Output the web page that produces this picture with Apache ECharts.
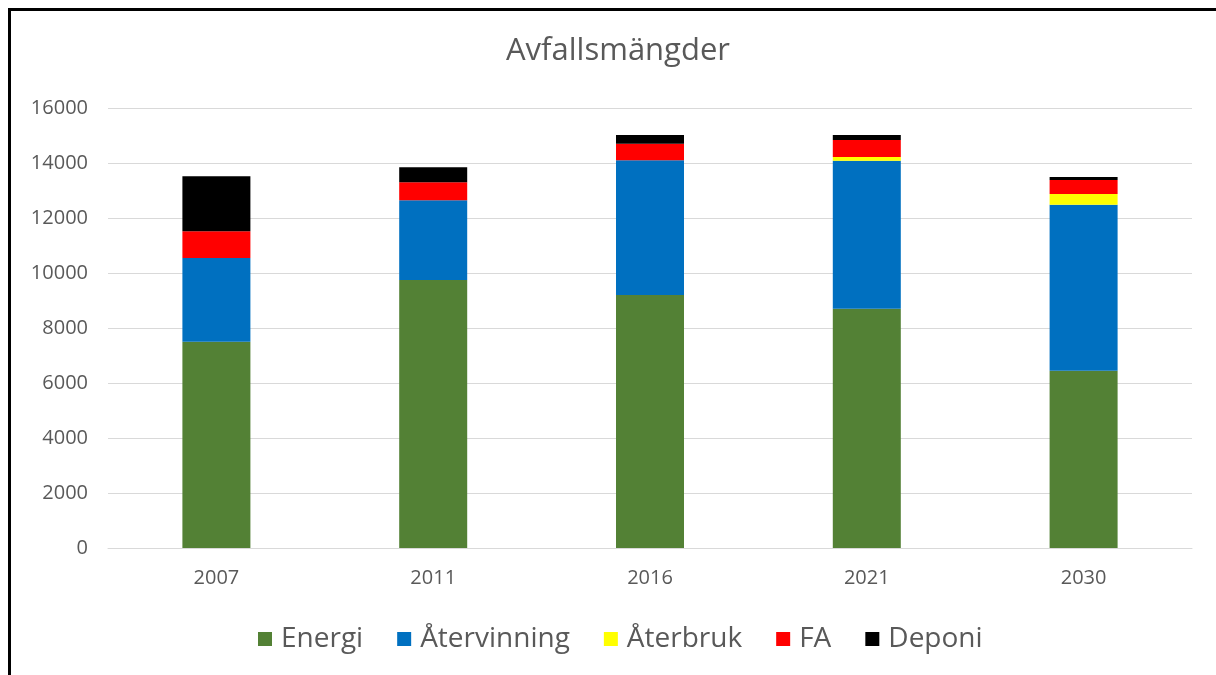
<!DOCTYPE html>
<html>
<head>
<meta charset="utf-8">
<script src="https://cdn.jsdelivr.net/npm/echarts@6/dist/echarts.min.js"></script>
<style>
html,body{margin:0;padding:0;background:#fff;}
#main{width:1216px;height:675px;}
</style>
</head>
<body>
<div id="main"></div>
<script>
const categories = ['2007', '2011', '2016', '2021', '2030'];
const energi = [7500, 9750, 9200, 8700, 6450];
const atervinning = [3050, 2900, 4900, 5380, 6030];
const aterbruk = [0, 0, 0, 135, 390];
const fa = [970, 650, 600, 620, 510];
const deponi = [2000, 550, 320, 180, 110];
const yTicks = [0, 2000, 4000, 6000, 8000, 10000, 12000, 14000, 16000];

const seriesDefs = [
  { name: 'Energi', data: energi, color: '#538135' },
  { name: 'Återvinning', data: atervinning, color: '#0070C0' },
  { name: 'Återbruk', data: aterbruk, color: '#FFFF00' },
  { name: 'FA', data: fa, color: '#FF0000' },
  { name: 'Deponi', data: deponi, color: '#000000' }
];

const font = '"Open Sans", "Liberation Sans", sans-serif';
const chart = echarts.init(document.getElementById('main'), null, { renderer: 'canvas' });
chart.setOption({
  backgroundColor: '#ffffff',
  animation: false,
  title: {
    text: 'Avfallsmängder',
    left: 613, textAlign: 'center', top: 31,
    textStyle: { fontFamily: font, fontSize: 31, fontWeight: 'normal', color: '#595959' }
  },
  legend: {
    left: 253, top: 620,
    itemWidth: 14, itemHeight: 14, itemGap: 34,
    icon: 'rect',
    textStyle: { fontFamily: font, fontSize: 28, color: '#595959', padding: [0, 0, 0, 4] },
    data: seriesDefs.map(s => s.name)
  },
  grid: { left: 108, right: 24, top: 108, bottom: 127, containLabel: false },
  xAxis: {
    type: 'category', data: categories,
    axisLine: { lineStyle: { color: '#d9d9d9', width: 1 } },
    axisTick: { show: false },
    axisLabel: { fontFamily: font, fontSize: 20, color: '#595959', margin: 20 }
  },
  yAxis: {
    type: 'value', min: yTicks[0], max: yTicks[yTicks.length - 1], interval: 2000,
    axisLine: { show: false }, axisTick: { show: false },
    splitLine: { lineStyle: { color: '#d9d9d9', width: 1 } },
    axisLabel: { fontFamily: font, fontSize: 20, color: '#595959', margin: 20,
      formatter: v => String(v) }
  },
  series: seriesDefs.map(s => ({
    name: s.name, type: 'bar', stack: 'total', data: s.data,
    barWidth: 68, itemStyle: { color: s.color }
  })),
  graphic: [{
    type: 'rect', silent: true, z: 100,
    shape: { x: 9.5, y: 9.5, width: 1400, height: 900 },
    style: { fill: 'none', stroke: '#000', lineWidth: 3 }
  }]
});
</script>
</body>
</html>
